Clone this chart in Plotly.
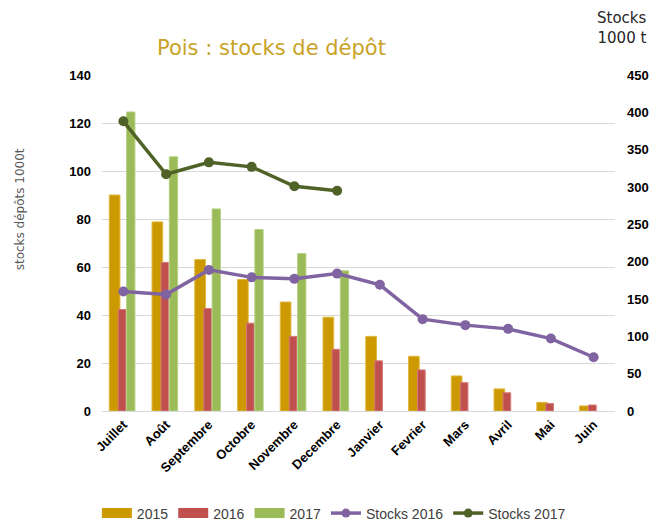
import plotly.graph_objects as go

months = ["Juillet", "Août", "Septembre", "Octobre", "Novembre", "Decembre",
          "Janvier", "Fevrier", "Mars", "Avril", "Mai", "Juin"]
y2015 = [90.0, 78.8, 63.1, 54.8, 45.4, 39.1, 31.1, 22.8, 14.6, 9.2, 3.6, 2.1]
y2016 = [42.3, 61.9, 42.7, 36.6, 31.1, 25.7, 20.9, 17.1, 11.8, 7.6, 3.1, 2.5]
y2017 = [124.6, 105.9, 84.2, 75.6, 65.6, 58.4]
stocks2016 = [160, 156, 189, 179, 177, 184, 169, 123, 115, 110, 97, 72]
stocks2017 = [388, 317, 333, 327, 301, 295]

left_ticks = [0, 20, 40, 60, 80, 100, 120, 140]
right_ticks = [0, 50, 100, 150, 200, 250, 300, 350, 400, 450]

C2015 = "#CC9900"
C2016 = "#C0504D"
C2017 = "#9BBB59"
CS16 = "#8064A2"
CS17 = "#4F6228"

FONT = "Liberation Sans, Arial, sans-serif"

fig = go.Figure()
fig.add_trace(go.Bar(x=months, y=y2015, name="2015", marker_color=C2015,
                     marker_line=dict(color="#E0B840", width=1),
                     offset=-0.33, width=0.25, showlegend=False))
fig.add_trace(go.Bar(x=months, y=y2016, name="2016", marker_color=C2016,
                     marker_line=dict(color="#D67A77", width=1),
                     offset=-0.12, width=0.18, showlegend=False))
fig.add_trace(go.Bar(x=months[:len(y2017)], y=y2017, name="2017", marker_color=C2017,
                     marker_line=dict(color="#B5D085", width=1),
                     offset=0.075, width=0.195, showlegend=False))
fig.add_trace(go.Scatter(x=months, y=stocks2016, name="Stocks 2016", yaxis="y2",
                         mode="lines+markers", line=dict(color=CS16, width=3.5),
                         marker=dict(size=10, color=CS16), showlegend=False))
fig.add_trace(go.Scatter(x=months[:len(stocks2017)], y=stocks2017, name="Stocks 2017", yaxis="y2",
                         mode="lines+markers", line=dict(color=CS17, width=3.5),
                         marker=dict(size=10, color=CS17), showlegend=False))

# legend entries (bars shown as wide rectangles like the original)
for nm, col in [("2015", C2015), ("2016", C2016), ("2017", C2017)]:
    fig.add_trace(go.Scatter(x=[None], y=[None], name=nm, mode="lines",
                             line=dict(color=col, width=11)))
for nm, col in [("Stocks 2016", CS16), ("Stocks 2017", CS17)]:
    fig.add_trace(go.Scatter(x=[None], y=[None], name=nm, mode="lines+markers", yaxis="y2",
                             line=dict(color=col, width=3.5), marker=dict(size=9, color=col)))

fig.update_layout(
    width=662, height=521,
    margin=dict(l=102, r=47, t=75, b=110, autoexpand=False),
    paper_bgcolor="white", plot_bgcolor="white",
    barmode="overlay",
    showlegend=True,
    legend=dict(orientation="h", x=-0.01, y=-0.305, xanchor="left", yanchor="middle",
                font=dict(family=FONT, size=14, color="#404040"),
                traceorder="normal", itemwidth=30, tracegroupgap=0),
    xaxis=dict(range=[-0.5, 11.5], tickangle=-45,
               tickfont=dict(family=FONT, size=13, color="#000000", weight="bold"),
               showgrid=False, showline=True, linecolor="#D9D9D9", ticks=""),
    yaxis=dict(range=[0, 140], tickvals=left_ticks, showgrid=True, gridcolor="#D9D9D9",
               zeroline=False, tickfont=dict(family=FONT, size=13, color="#000000", weight="bold"),
               ticklabelstandoff=10),
    yaxis2=dict(range=[0, 450], tickvals=right_ticks, overlaying="y", side="right",
                showgrid=False, zeroline=False,
                tickfont=dict(family=FONT, size=13, color="#000000", weight="bold"),
                ticklabelstandoff=11),
    annotations=[
        dict(text="Pois : stocks de dépôt", x=0.331, y=1.081, xref="paper", yref="paper",
             showarrow=False, xanchor="center", yanchor="middle",
             font=dict(family="DejaVu Sans, sans-serif", size=21, color="#C9A227")),
        dict(text="stocks dépôts 1000t", x=-0.160, y=0.60, xref="paper", yref="paper",
             showarrow=False, textangle=-90, xanchor="center", yanchor="middle",
             font=dict(family="DejaVu Sans, sans-serif", size=12, color="#595959")),
        dict(text="Stocks<br>1000 t", x=1.0136, y=1.141, xref="paper", yref="paper",
             showarrow=False, xanchor="center", yanchor="middle", align="right",
             font=dict(family="DejaVu Sans, sans-serif", size=15, color="#262626")),
    ],
)

fig.write_html("out.html", config={"displayModeBar": False},
               post_script="document.body.style.margin='0';document.body.style.overflow='hidden';")
